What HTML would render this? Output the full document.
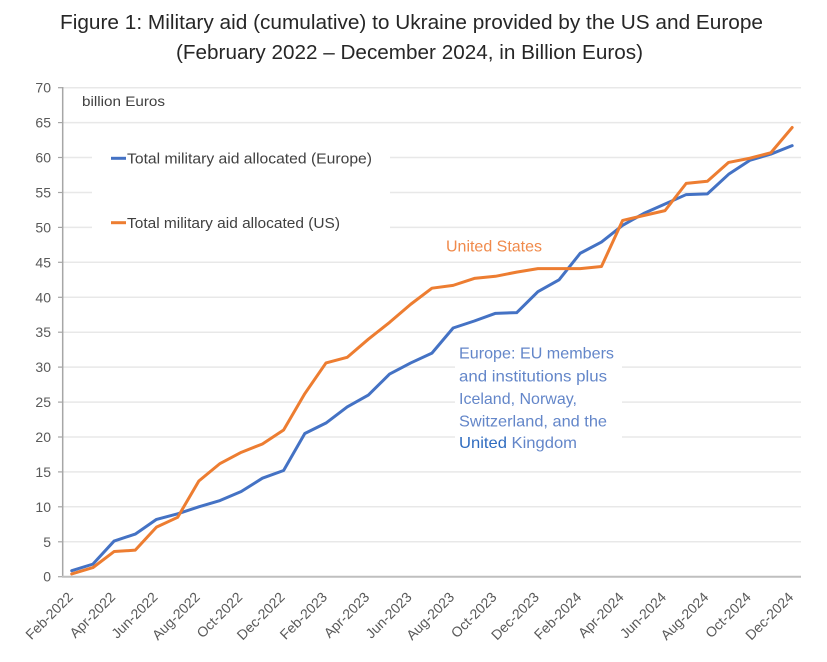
<!DOCTYPE html>
<html>
<head>
<meta charset="utf-8">
<style>
  html, body { margin:0; padding:0; background:#ffffff; }
  svg { display:block; }
  text { font-family: "Liberation Sans", sans-serif; }
</style>
</head>
<body>
<svg width="827" height="662" viewBox="0 0 827 662" xmlns="http://www.w3.org/2000/svg">
  <rect x="0" y="0" width="827" height="662" fill="#ffffff"/>

  <!-- Title -->
  <text x="60" y="29" font-size="20" fill="#262626" textLength="703" lengthAdjust="spacingAndGlyphs">Figure 1: Military aid (cumulative) to Ukraine provided by the US and Europe</text>
  <text x="176" y="59" font-size="20" fill="#262626" textLength="467" lengthAdjust="spacingAndGlyphs">(February 2022 – December 2024, in Billion Euros)</text>

  <!-- Gridlines -->
  <g stroke="#e8e8e8" stroke-width="1.5">
    <line x1="63" y1="541.8" x2="801" y2="541.8"/>
    <line x1="63" y1="506.8" x2="801" y2="506.8"/>
    <line x1="63" y1="471.9" x2="801" y2="471.9"/>
    <line x1="63" y1="437.0" x2="801" y2="437.0"/>
    <line x1="63" y1="402.1" x2="801" y2="402.1"/>
    <line x1="63" y1="367.1" x2="801" y2="367.1"/>
    <line x1="63" y1="332.2" x2="801" y2="332.2"/>
    <line x1="63" y1="297.3" x2="801" y2="297.3"/>
    <line x1="63" y1="262.3" x2="801" y2="262.3"/>
    <line x1="63" y1="227.4" x2="801" y2="227.4"/>
    <line x1="63" y1="192.5" x2="801" y2="192.5"/>
    <line x1="63" y1="157.5" x2="801" y2="157.5"/>
    <line x1="63" y1="122.6" x2="801" y2="122.6"/>
    <line x1="63" y1="87.7" x2="801" y2="87.7"/>
  </g>

  <!-- Legend box and annotation box (white, cover gridlines) -->
  <rect x="92" y="135" width="298" height="110" fill="#ffffff"/>
  <rect x="455" y="340" width="167" height="118" fill="#ffffff"/>

  <!-- Y axis -->
  <line x1="62.7" y1="87" x2="62.7" y2="577" stroke="#a6a6a6" stroke-width="1.5"/>
  <g stroke="#a6a6a6" stroke-width="1.2">
    <line x1="58" y1="576.7" x2="63" y2="576.7"/>
    <line x1="58" y1="541.8" x2="63" y2="541.8"/>
    <line x1="58" y1="506.8" x2="63" y2="506.8"/>
    <line x1="58" y1="471.9" x2="63" y2="471.9"/>
    <line x1="58" y1="437.0" x2="63" y2="437.0"/>
    <line x1="58" y1="402.1" x2="63" y2="402.1"/>
    <line x1="58" y1="367.1" x2="63" y2="367.1"/>
    <line x1="58" y1="332.2" x2="63" y2="332.2"/>
    <line x1="58" y1="297.3" x2="63" y2="297.3"/>
    <line x1="58" y1="262.3" x2="63" y2="262.3"/>
    <line x1="58" y1="227.4" x2="63" y2="227.4"/>
    <line x1="58" y1="192.5" x2="63" y2="192.5"/>
    <line x1="58" y1="157.5" x2="63" y2="157.5"/>
    <line x1="58" y1="122.6" x2="63" y2="122.6"/>
    <line x1="58" y1="87.7" x2="63" y2="87.7"/>
  </g>
  <g font-size="14" fill="#595959" text-anchor="end">
    <text x="51" y="581.7">0</text>
    <text x="51" y="546.8">5</text>
    <text x="51" y="511.8">10</text>
    <text x="51" y="476.9">15</text>
    <text x="51" y="442.0">20</text>
    <text x="51" y="407.1">25</text>
    <text x="51" y="372.1">30</text>
    <text x="51" y="337.2">35</text>
    <text x="51" y="302.3">40</text>
    <text x="51" y="267.3">45</text>
    <text x="51" y="232.4">50</text>
    <text x="51" y="197.5">55</text>
    <text x="51" y="162.5">60</text>
    <text x="51" y="127.6">65</text>
    <text x="51" y="92.7">70</text>
  </g>

  <!-- X axis -->
  <line x1="62" y1="576.7" x2="801" y2="576.7" stroke="#bfbfbf" stroke-width="2"/>

  <!-- X labels -->
  <g font-size="14" fill="#595959" text-anchor="end">
    <text transform="translate(73.7,598) rotate(-45)">Feb-2022</text>
    <text transform="translate(116.1,598) rotate(-45)">Apr-2022</text>
    <text transform="translate(158.5,598) rotate(-45)">Jun-2022</text>
    <text transform="translate(200.8,598) rotate(-45)">Aug-2022</text>
    <text transform="translate(243.2,598) rotate(-45)">Oct-2022</text>
    <text transform="translate(285.6,598) rotate(-45)">Dec-2022</text>
    <text transform="translate(328.0,598) rotate(-45)">Feb-2023</text>
    <text transform="translate(370.3,598) rotate(-45)">Apr-2023</text>
    <text transform="translate(412.7,598) rotate(-45)">Jun-2023</text>
    <text transform="translate(455.1,598) rotate(-45)">Aug-2023</text>
    <text transform="translate(497.5,598) rotate(-45)">Oct-2023</text>
    <text transform="translate(539.9,598) rotate(-45)">Dec-2023</text>
    <text transform="translate(582.3,598) rotate(-45)">Feb-2024</text>
    <text transform="translate(624.6,598) rotate(-45)">Apr-2024</text>
    <text transform="translate(667.0,598) rotate(-45)">Jun-2024</text>
    <text transform="translate(709.4,598) rotate(-45)">Aug-2024</text>
    <text transform="translate(751.8,598) rotate(-45)">Oct-2024</text>
    <text transform="translate(794.2,598) rotate(-45)">Dec-2024</text>
  </g>

  <!-- Series -->
  <g transform="translate(71.7,576.7) scale(21.19,-6.986)" fill="none" stroke-linejoin="round" stroke-linecap="round">
    <polyline vector-effect="non-scaling-stroke" stroke="#4472c4" stroke-width="3"
      points="0,0.86 1,1.8 2,5.1 3,6.1 4,8.2 5,9.0 6,10.0 7,10.9 8,12.2 9,14.1 10,15.2 11,20.5 12,22.0 13,24.3 14,26.0 15,29.0 16,30.6 17,32.0 18,35.6 19,36.6 20,37.7 21,37.8 22,40.8 23,42.5 24,46.3 25,47.9 26,50.3 27,52.0 28,53.35 29,54.7 30,54.8 31,57.6 32,59.6 33,60.5 34,61.7"/>
    <polyline vector-effect="non-scaling-stroke" stroke="#ed7d31" stroke-width="3"
      points="0,0.4 1,1.3 2,3.6 3,3.8 4,7.1 5,8.5 6,13.7 7,16.2 8,17.8 9,19.0 10,21.0 11,26.2 12,30.6 13,31.4 14,34.0 15,36.4 16,39.0 17,41.3 18,41.7 19,42.7 20,43.0 21,43.6 22,44.1 23,44.1 24,44.1 25,44.4 26,51.0 27,51.7 28,52.4 29,56.3 30,56.6 31,59.3 32,59.9 33,60.7 34,64.3"/>
  </g>

  <!-- Unit label -->
  <text x="82" y="106" font-size="13.5" fill="#404040" textLength="83" lengthAdjust="spacingAndGlyphs">billion Euros</text>

  <!-- Legend -->
  <line x1="111" y1="158.3" x2="126" y2="158.3" stroke="#4472c4" stroke-width="3"/>
  <text x="127" y="163.5" font-size="15" fill="#404040" textLength="245" lengthAdjust="spacingAndGlyphs">Total military aid allocated (Europe)</text>
  <line x1="111" y1="222.7" x2="126" y2="222.7" stroke="#ed7d31" stroke-width="3"/>
  <text x="127" y="228" font-size="15" fill="#404040" textLength="213" lengthAdjust="spacingAndGlyphs">Total military aid allocated (US)</text>

  <!-- Annotations -->
  <text x="446" y="251.5" font-size="16" fill="#f08a4b" textLength="96" lengthAdjust="spacingAndGlyphs">United States</text>
  <g font-size="16" fill="#6386c9">
    <text x="459" y="358.5" textLength="155" lengthAdjust="spacingAndGlyphs">Europe: EU members</text>
    <text x="459" y="381.3" textLength="148" lengthAdjust="spacingAndGlyphs">and institutions plus</text>
    <text x="459" y="404" textLength="118" lengthAdjust="spacingAndGlyphs">Iceland, Norway,</text>
    <text x="459" y="426.3" textLength="148" lengthAdjust="spacingAndGlyphs">Switzerland, and the</text>
    <text x="459" y="448" textLength="118" lengthAdjust="spacingAndGlyphs"><tspan fill="#2f6cc0">United</tspan> Kingdom</text>
  </g>
</svg>
</body>
</html>
